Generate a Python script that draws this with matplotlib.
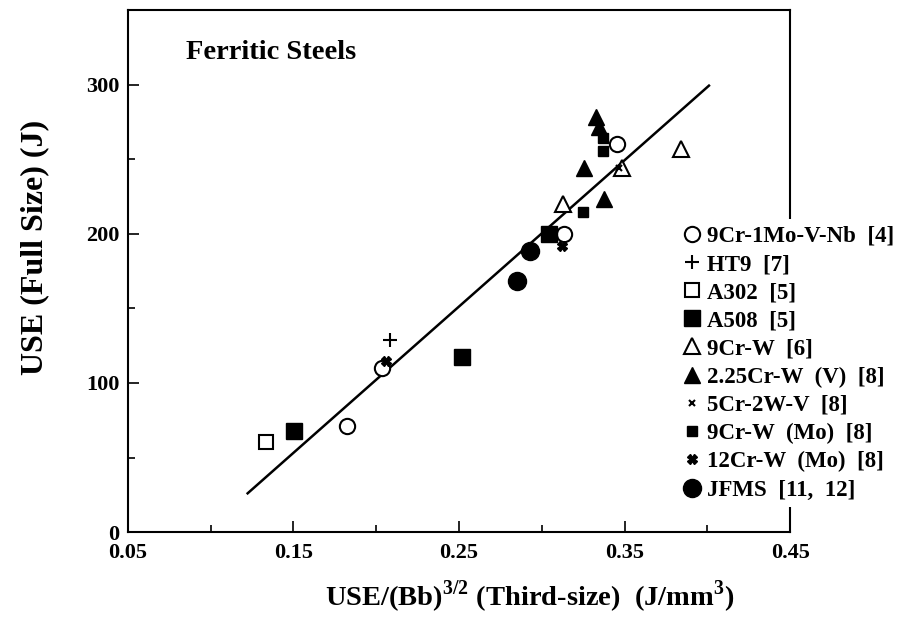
import numpy as np
import matplotlib
matplotlib.use("Agg")
from matplotlib import pyplot as plt
from matplotlib.ticker import MultipleLocator

plt.rcParams['font.family'] = ['Liberation Serif', 'DejaVu Serif']
plt.rcParams['font.weight'] = 'bold'
plt.rcParams['mathtext.fontset'] = 'custom'
plt.rcParams['mathtext.rm'] = 'Liberation Serif:bold'
plt.rcParams['mathtext.bf'] = 'Liberation Serif:bold'

# data
cr9mo_x = [0.1825, 0.2036, 0.3133, 0.3452]
cr9mo_y = [70.8, 110.2, 199.7, 260.5]
ht9_x = [0.2084]
ht9_y = [129]
a302_x = [0.1331]
a302_y = [60.1]
a508_x = [0.1506, 0.2518, 0.3042]
a508_y = [67.5, 117.6, 199.7]
cr9w_x = [0.3127, 0.3482, 0.3843]
cr9w_y = [219.8, 243.8, 257.0]
cr225_x = [0.3253, 0.3373, 0.3325, 0.3343]
cr225_y = [243.8, 223.0, 278.0, 271.9]
cr5_x = [0.3465]
cr5_y = [244.0]
cr9wmo_x = [0.3247, 0.3367, 0.3367]
cr9wmo_y = [214.4, 263.9, 255.2]
cr12_x = [0.2060, 0.3120]
cr12_y = [115.0, 191.7]
jfms_x = [0.2849, 0.2928]
jfms_y = [168.3, 188.4]
fit_x = [0.1223, 0.401]
fit_y = [26.0, 299.3]

fig = plt.figure(figsize=(9.05, 6.26), dpi=100)
ax = fig.add_axes([0.1414, 0.150, 0.7316, 0.834])

ax.plot(fit_x, fit_y, color='black', lw=1.8, zorder=1)

ax.plot(cr9mo_x, cr9mo_y, 'o', ms=11, mfc='white', mec='black', mew=1.5, ls='none', label='9Cr-1Mo-V-Nb  [4]')
ax.plot(ht9_x, ht9_y, '+', ms=10, mec='black', mew=1.5, ls='none', label='HT9  [7]')
ax.plot(a302_x, a302_y, 's', ms=10, mfc='white', mec='black', mew=1.5, ls='none', label='A302  [5]')
ax.plot(a508_x, a508_y, 's', ms=12, color='black', ls='none', label='A508  [5]')
ax.plot(cr9w_x, cr9w_y, '^', ms=11, mfc='white', mec='black', mew=1.5, ls='none', label='9Cr-W  [6]')
ax.plot(cr225_x, cr225_y, '^', ms=12, color='black', ls='none', label='2.25Cr-W  (V)  [8]')
ax.plot(cr5_x, cr5_y, 'x', ms=5, mec='black', mew=1.5, ls='none', label='5Cr-2W-V  [8]')
ax.plot(cr9wmo_x, cr9wmo_y, 's', ms=7, color='black', ls='none', label='9Cr-W  (Mo)  [8]')
ax.plot(cr12_x, cr12_y, 'X', ms=7, color='black', ls='none', label='12Cr-W  (Mo)  [8]')
ax.plot(jfms_x, jfms_y, 'o', ms=13, color='black', ls='none', label='JFMS  [11,  12]')

ax.set_xlim(0.05, 0.45)
ax.set_ylim(0, 350)
ax.set_xticks([0.05, 0.15, 0.25, 0.35, 0.45])
ax.set_xticklabels(['0.05', '0.15', '0.25', '0.35', '0.45'])
ax.set_yticks([0, 100, 200, 300])
ax.xaxis.set_minor_locator(MultipleLocator(0.05))
ax.yaxis.set_minor_locator(MultipleLocator(50))
ax.tick_params(which='both', direction='in', width=1.2, labelsize=16)
ax.tick_params(which='major', length=8)
ax.tick_params(axis='x', which='major', pad=8)
ax.tick_params(axis='y', which='major', pad=6)
ax.tick_params(which='minor', length=5)
for s in ax.spines.values():
    s.set_linewidth(1.5)

ax.text(0.0876, 0.918, 'Ferritic Steels', transform=ax.transAxes, fontsize=20.5,
        fontweight='bold', va='center', ha='left')
ax.set_ylabel('USE (Full Size) (J)', fontsize=23, fontweight='bold', va='center')
ax.yaxis.set_label_coords(-0.1405, 0.546)
ax.set_xlabel('USE/(Bb)$^{3/2}$ (Third-size)  (J/mm$^{3}$)', fontsize=20.5,
              fontweight='bold', va='center')
ax.xaxis.set_label_coords(0.607, -0.1245)

# legend sits over the right spine with a white patch, as in the scan
leg = ax.legend(loc='upper left', bbox_to_anchor=(674 / 905, 1 - 219 / 626),
                bbox_transform=fig.transFigure, frameon=True, fancybox=False,
                handletextpad=0.16, labelspacing=0.31, handlelength=1.0, borderaxespad=0,
                borderpad=0.3, prop={'weight': 'bold', 'size': 16.5})
leg.get_frame().set_facecolor('white')
leg.get_frame().set_edgecolor('none')
leg.get_frame().set_alpha(1.0)

fig.savefig('out.png', dpi=100)
